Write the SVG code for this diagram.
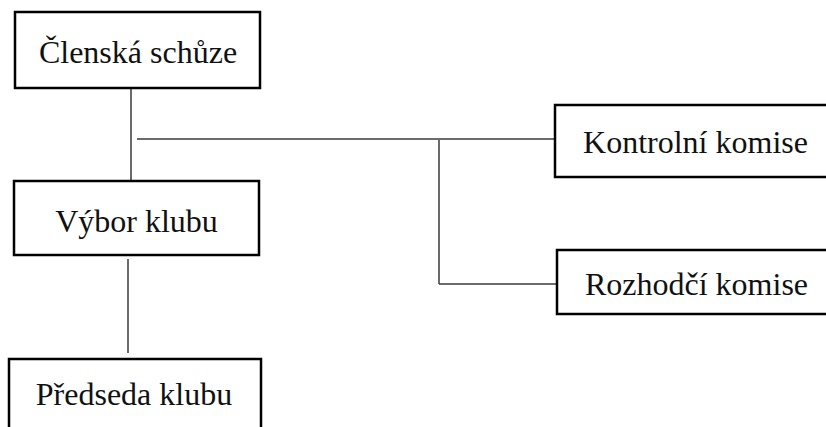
<svg xmlns="http://www.w3.org/2000/svg" width="826" height="427" viewBox="0 0 826 427">
  <style>
    .box { fill: #ffffff; stroke: #000000; stroke-width: 2.5; }
    .lbl { font-family: "Liberation Serif", "Times New Roman", serif; font-size: 32px; fill: #111111; text-anchor: middle; }
    .conn { stroke: #3a3a3a; stroke-width: 1.5; fill: none; }
  </style>
  <rect width="826" height="427" fill="#ffffff"/>

  <g id="connectors">
    <line class="conn" x1="131" y1="89" x2="131" y2="181"/>
    <line class="conn" x1="137" y1="139" x2="555" y2="139"/>
    <line class="conn" x1="439" y1="140" x2="439" y2="284"/>
    <line class="conn" x1="439" y1="284" x2="556" y2="284"/>
    <line class="conn" x1="128" y1="259" x2="128" y2="353"/>
  </g>

  <g id="clenska-schuze">
    <rect class="box" x="15" y="12" width="245" height="76"/>
    <text class="lbl" x="138" y="63">Členská schůze</text>
  </g>

  <g id="vybor-klubu">
    <rect class="box" x="14" y="181" width="245" height="74"/>
    <text class="lbl" x="136.5" y="232">Výbor klubu</text>
  </g>

  <g id="predseda-klubu">
    <rect class="box" x="9" y="359" width="252" height="80"/>
    <text class="lbl" x="134" y="405">Předseda klubu</text>
  </g>

  <g id="kontrolni-komise">
    <rect class="box" x="555" y="105" width="290" height="72"/>
    <text class="lbl" x="695.5" y="153">Kontrolní komise</text>
  </g>

  <g id="rozhodci-komise">
    <rect class="box" x="557" y="250" width="290" height="64"/>
    <text class="lbl" x="696.5" y="295">Rozhodčí komise</text>
  </g>
</svg>
